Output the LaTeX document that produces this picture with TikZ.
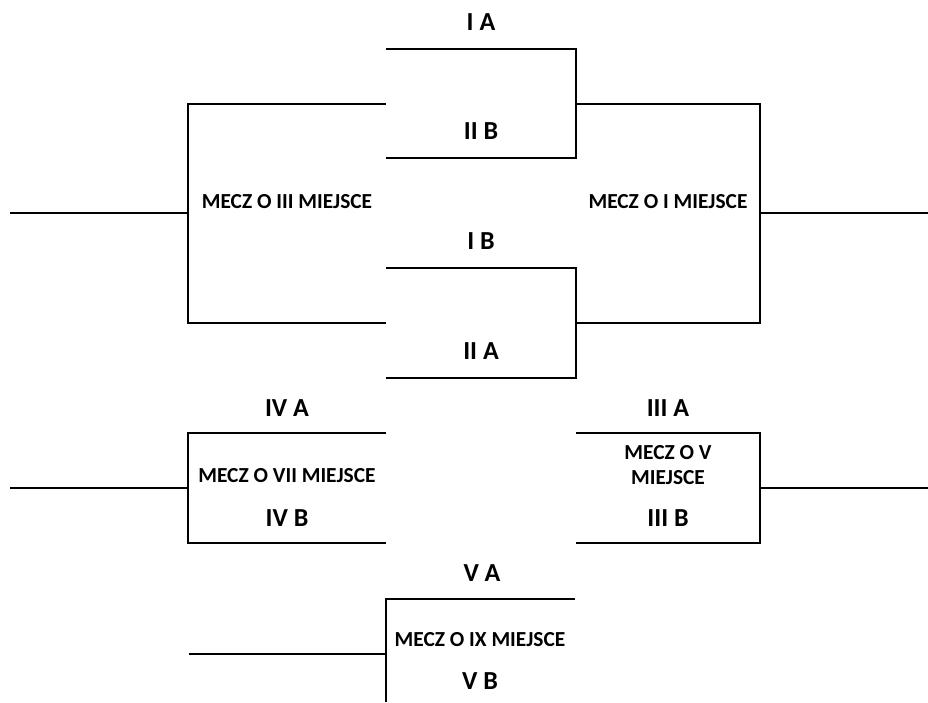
\documentclass[tikz,border=0pt]{standalone}
\usepackage{fontspec}
\setmainfont{Carlito}
\usetikzlibrary{positioning}
\tikzset{
  wire/.style={black,line width=2.8pt,line join=miter},
  team/.style={font=\fontsize{26}{30}\selectfont\bfseries,inner sep=0pt},
  match/.style={font=\fontsize{21.4}{25.5}\selectfont\bfseries,inner sep=0pt,align=center},
}

\begin{document}
\begin{tikzpicture}[x=1pt,y=-1pt]
  \path[use as bounding box] (0,0) rectangle (928,702);

  % semifinal brackets
  \coordinate (iaL) at (386,49);  \coordinate (iaR) at (576,49);
  \coordinate (iibL) at (386,158); \coordinate (iibR) at (576,158);
  \coordinate (ibL) at (386,268); \coordinate (ibR) at (576,268);
  \coordinate (iiaL) at (386,378); \coordinate (iiaR) at (576,378);
  \draw[wire] (iaL) -- (iaR) -- (iibR) -- (iibL);
  \draw[wire] (ibL) -- (ibR) -- (iiaR) -- (iiaL);
  \node[team] (IA) at (481,22) {I A};
  \node[team] (IIB) at (481,131) {II B};
  \node[team] (IB) at (481,241) {I B};
  \node[team] (IIA) at (481,351) {II A};

  % final and third place
  \coordinate (finT) at (760,104); \coordinate (finB) at (760,323);
  \coordinate (finM) at (760,213); \coordinate (finOut) at (928,213);
  \coordinate (sfT) at (576,104); \coordinate (sfB) at (576,323);
  \draw[wire] (sfT) -- (finT) -- (finB) -- (sfB);
  \draw[wire] (finM) -- (finOut);
  \node[match] (M1) at (668,202) {MECZ O I MIEJSCE};

  \coordinate (thT) at (188,104); \coordinate (thB) at (188,323);
  \coordinate (thM) at (188,213); \coordinate (thOut) at (10,213);
  \coordinate (lsT) at (386,104); \coordinate (lsB) at (386,323);
  \draw[wire] (lsT) -- (thT) -- (thB) -- (lsB);
  \draw[wire] (thM) -- (thOut);
  \node[match] (M3) at (287,202) {MECZ O III MIEJSCE};

  % fifth place
  \coordinate (vT) at (760,433); \coordinate (vB) at (760,543);
  \coordinate (vM) at (760,488); \coordinate (vOut) at (928,488);
  \coordinate (iiiaL) at (576,433); \coordinate (iiibL) at (576,543);
  \draw[wire] (iiiaL) -- (vT) -- (vB) -- (iiibL);
  \draw[wire] (vM) -- (vOut);
  \node[team] (IIIA) at (668,408) {III A};
  \node[match] (M5) at (668,465) {MECZ O V\\MIEJSCE};
  \node[team] (IIIB) at (668,518) {III B};

  % seventh place
  \coordinate (viiT) at (188,433); \coordinate (viiB) at (188,543);
  \coordinate (viiM) at (188,488); \coordinate (viiOut) at (10,488);
  \coordinate (ivaR) at (386,433); \coordinate (ivbR) at (386,543);
  \draw[wire] (ivaR) -- (viiT) -- (viiB) -- (ivbR);
  \draw[wire] (viiM) -- (viiOut);
  \node[team] (IVA) at (287,408) {IV A};
  \node[match] (M7) at (287,476) {MECZ O VII MIEJSCE};
  \node[team] (IVB) at (287,518) {IV B};

  % ninth place
  \coordinate (vaR) at (575,599); \coordinate (ixT) at (386,599);
  \coordinate (ixM) at (386,654); \coordinate (ixEnd) at (386,702);
  \coordinate (ixOut) at (189,654);
  \draw[wire] (vaR) -- (ixT) -- (ixEnd);
  \draw[wire] (ixM) -- (ixOut);
  \node[team] (VA) at (482,573) {V A};
  \node[match] (M9) at (480,640) {MECZ O IX MIEJSCE};
  \node[team] (VB) at (480,681) {V B};
\end{tikzpicture}
\end{document}
